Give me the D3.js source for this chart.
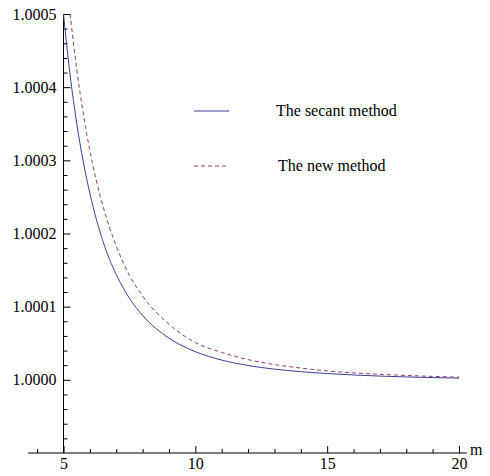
<!DOCTYPE html>
<html>
<head>
<meta charset="utf-8">
<script src="https://cdn.jsdelivr.net/npm/d3@7"></script>
<style>
  body { margin: 0; background: #fff; }
  svg text { font-family: "Liberation Serif", "Times New Roman", serif; font-size: 16px; fill: #000; }
</style>
</head>
<body>
<div id="chart"></div>
<script>
const FRAME_WIDTH = 490;
const FRAME_HEIGHT = 476;

// data, y given as excess over 1 in units of 1e-4
const SECANT_M = [5, 5.1, 5.25, 5.5, 5.75, 6, 6.5, 7, 7.5, 8, 9, 10, 11, 12, 13, 14, 15, 16, 17, 18, 19, 20];
const SECANT_EXCESS = [5.0, 4.65, 4.17, 3.51, 2.98, 2.55, 1.89, 1.44, 1.115, 0.88, 0.57, 0.385, 0.27, 0.196, 0.146, 0.111, 0.086, 0.066, 0.051, 0.04, 0.031, 0.023];

const NEW_M = [5.25, 5.5, 5.75, 6, 6.5, 7, 7.5, 8, 9, 10, 11, 12, 13, 14, 15, 16, 17, 18, 19, 20];
const NEW_EXCESS = [5.0, 4.25, 3.64, 3.13, 2.37, 1.83, 1.43, 1.145, 0.76, 0.51, 0.375, 0.277, 0.209, 0.161, 0.122, 0.095, 0.075, 0.06, 0.047, 0.037];

const X_MAJOR = [5, 10, 15, 20];
const X_MINOR = [4, 6, 7, 8, 9, 11, 12, 13, 14, 16, 17, 18, 19];
const Y_MAJOR = [1.0000, 1.0001, 1.0002, 1.0003, 1.0004, 1.0005];
const Y_MINOR = [0.99992, 0.99994, 0.99996, 0.99998,
                 1.00002, 1.00004, 1.00006, 1.00008,
                 1.00012, 1.00014, 1.00016, 1.00018,
                 1.00022, 1.00024, 1.00026, 1.00028,
                 1.00032, 1.00034, 1.00036, 1.00038,
                 1.00042, 1.00044, 1.00046, 1.00048];

const LEGEND_LABELS = ["The secant method", "The new method"];
const SECANT_COLOR = "#3d3d99";
const NEW_COLOR = "#993d71";

// scales (axis line runs a bit past the data range)
const X_SCALE = d3.scaleLinear().domain([5, 20]).range([63.5, 459]);
const Y_SCALE = d3.scaleLinear().domain([0.9999, 1.0005]).range([453, 14]);

const SVG = d3.select("#chart")
  .append("svg")
    .attr("width", FRAME_WIDTH)
    .attr("height", FRAME_HEIGHT);

SVG.append("clipPath").attr("id", "plotclip")
  .append("rect")
    .attr("x", X_SCALE(5) - 1)
    .attr("y", Y_SCALE(1.0005))
    .attr("width", X_SCALE(20) - X_SCALE(5) + 2)
    .attr("height", Y_SCALE(0.9999) - Y_SCALE(1.0005));

// x axis: minor ticks, then major ticks with labels
const X_AXIS_Y = Y_SCALE(0.9999);
SVG.append("line")
    .attr("x1", X_SCALE(3.65)).attr("x2", X_SCALE(20.3))
    .attr("y1", X_AXIS_Y).attr("y2", X_AXIS_Y)
    .attr("stroke", "#000");

SVG.append("g")
    .attr("transform", "translate(0," + X_AXIS_Y + ")")
    .call(d3.axisBottom(X_SCALE).tickValues(X_MINOR).tickSize(-4).tickFormat(""))
    .call(g => g.select(".domain").remove());

SVG.append("g")
    .attr("transform", "translate(0," + X_AXIS_Y + ")")
    .call(d3.axisBottom(X_SCALE).tickValues(X_MAJOR).tickSize(-7).tickPadding(5).tickFormat(d3.format("d")))
    .call(g => g.select(".domain").remove())
    .call(g => g.selectAll("text").attr("font-size", null).attr("font-family", null));

SVG.append("text")
    .attr("x", 470)
    .attr("y", 455)
    .text("m");

// y axis at m = 5
const Y_AXIS_X = X_SCALE(5);
SVG.append("line")
    .attr("x1", Y_AXIS_X).attr("x2", Y_AXIS_X)
    .attr("y1", Y_SCALE(1.0005)).attr("y2", X_AXIS_Y)
    .attr("stroke", "#000");

SVG.append("g")
    .attr("transform", "translate(" + Y_AXIS_X + ",0)")
    .call(d3.axisLeft(Y_SCALE).tickValues(Y_MINOR).tickSize(-4).tickFormat(""))
    .call(g => g.select(".domain").remove());

SVG.append("g")
    .attr("transform", "translate(" + Y_AXIS_X + ",0)")
    .call(d3.axisLeft(Y_SCALE).tickValues(Y_MAJOR).tickSize(-7).tickPadding(7).tickFormat(d3.format(".4f")))
    .call(g => g.select(".domain").remove())
    .call(g => g.selectAll("text").attr("font-size", null).attr("font-family", null));

// curves
const LINE = d3.line()
    .x(d => X_SCALE(d[0]))
    .y(d => Y_SCALE(1 + d[1] * 1e-4))
    .curve(d3.curveMonotoneX);

const PLOT = SVG.append("g").attr("clip-path", "url(#plotclip)");

PLOT.append("path")
    .datum(d3.zip(SECANT_M, SECANT_EXCESS))
    .attr("d", LINE)
    .attr("fill", "none")
    .attr("stroke", SECANT_COLOR)
    .attr("stroke-width", 1);

PLOT.append("path")
    .datum(d3.zip(NEW_M, NEW_EXCESS))
    .attr("d", LINE)
    .attr("fill", "none")
    .attr("stroke", NEW_COLOR)
    .attr("stroke-width", 1)
    .attr("stroke-dasharray", "4,3");

// legend
const LEGEND_Y = [111, 166];
const LEGEND_TEXT_Y = [116, 171];
SVG.append("line")
    .attr("x1", 194).attr("x2", 229)
    .attr("y1", LEGEND_Y[0]).attr("y2", LEGEND_Y[0])
    .attr("stroke", SECANT_COLOR);
SVG.append("line")
    .attr("x1", 194).attr("x2", 229)
    .attr("y1", LEGEND_Y[1]).attr("y2", LEGEND_Y[1])
    .attr("stroke", NEW_COLOR)
    .attr("stroke-dasharray", "4,3");
SVG.selectAll(".legend-label")
  .data(LEGEND_LABELS)
  .enter()
  .append("text")
    .attr("class", "legend-label")
    .attr("x", (d, i) => i === 0 ? 276 : 278)
    .attr("y", (d, i) => LEGEND_TEXT_Y[i])
    .text(d => d);
</script>
</body>
</html>
